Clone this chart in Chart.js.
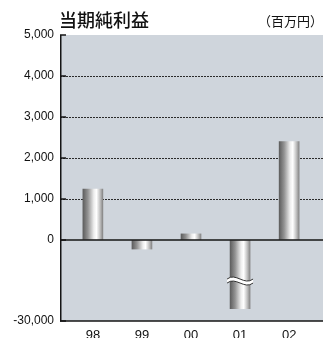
<!DOCTYPE html>
<html>
<head>
<meta charset="utf-8">
<script src="https://cdn.jsdelivr.net/npm/chart.js@4"></script>
<style>
  html, body { margin: 0; padding: 0; background: #fff; overflow: hidden; }
  #wrap { position: relative; width: 326px; height: 338px; }
  #title { position: absolute; left: 59px; top: 10px; font: 500 18px/1 "Noto Sans CJK JP"; color: #111; }
  #unit { position: absolute; right: 3px; top: 14px; font: 13px/1 "Noto Sans CJK JP"; color: #111; }
</style>
</head>
<body>
<div id="wrap">
  <canvas id="netIncome" width="326" height="338"></canvas>
  <div id="title">当期純利益</div>
  <div id="unit">（百万円）</div>
</div>
<script>
/*--data--*/
var years = ['98', '99', '00', '01', '02'];
var netIncome = [1240, -220, 150, -21000, 2400];   // 百万円
var yTicks = [-30000, 0, 1000, 2000, 3000, 4000, 5000];
var dottedAt = [1000, 2000, 3000, 4000];

/*--broken axis: below breakAt the scale is squeezed--*/
var breakAt = -1000;
var squeeze = 0.0336;
function toAxis(v) {
  return v >= breakAt ? v : breakAt + (v - breakAt) * squeeze;
}

function barFill(ctx) {
  var chart = ctx.chart;
  if (!chart.chartArea || ctx.dataIndex === undefined) return '#bbbbbb';
  var cx = chart.scales.x.getPixelForValue(ctx.dataIndex);
  var g = chart.ctx.createLinearGradient(cx - 10, 0, cx + 10, 0);
  g.addColorStop(0, '#5e5e5e');
  g.addColorStop(0.25, '#939393');
  g.addColorStop(0.55, '#eeeeee');
  g.addColorStop(0.68, '#ffffff');
  g.addColorStop(0.86, '#c0c0c0');
  g.addColorStop(1, '#858585');
  return g;
}

var frame = {
  id: 'frame',
  beforeDraw: function(chart) {
    var a = chart.chartArea, c = chart.ctx;
    c.save();
    c.fillStyle = '#cfd5dc';
    c.fillRect(a.left, a.top, a.right - a.left, a.bottom - a.top);
    c.restore();
  },
  afterDatasetsDraw: function(chart) {
    var a = chart.chartArea, c = chart.ctx, y = chart.scales.y, x = chart.scales.x;
    function line(x1, y1, x2, y2) { c.beginPath(); c.moveTo(x1, y1); c.lineTo(x2, y2); c.stroke(); }
    c.save();
    c.strokeStyle = '#151515';
    c.lineWidth = 1.5;
    var y0 = y.getPixelForValue(0);
    line(a.left, y0, a.right, y0);
    line(a.left + 0.75, a.top, a.left + 0.75, a.bottom);
    line(a.left, a.bottom, a.right, a.bottom);
    // little inner tick marks
    yTicks.forEach(function(v) {
      var py = y.getPixelForValue(toAxis(v));
      line(a.left, py, a.left + 6, py);
    });
    // break marks on bars cut by the axis break
    c.lineWidth = 1;
    netIncome.forEach(function(v, i) {
      if (v >= breakAt) return;
      var cx = x.getPixelForValue(i), cy = y.getPixelForValue(breakAt);
      var x0 = cx - 13, x1 = cx + 13, w = x1 - x0;
      c.beginPath();
      c.moveTo(x0, cy - 2);
      c.bezierCurveTo(x0 + w / 3, cy - 9, x0 + 2 * w / 3, cy + 5, x1, cy - 2);
      c.lineTo(x1, cy + 2);
      c.bezierCurveTo(x0 + 2 * w / 3, cy + 9, x0 + w / 3, cy - 5, x0, cy + 2);
      c.closePath();
      c.fillStyle = '#ffffff';
      c.fill();
      c.beginPath();
      c.moveTo(x0, cy - 2);
      c.bezierCurveTo(x0 + w / 3, cy - 9, x0 + 2 * w / 3, cy + 5, x1, cy - 2);
      c.moveTo(x0, cy + 2);
      c.bezierCurveTo(x0 + w / 3, cy - 5, x0 + 2 * w / 3, cy + 9, x1, cy + 2);
      c.strokeStyle = '#333333';
      c.stroke();
    });
    c.restore();
  }
};

var netIncomeChart = new Chart(document.getElementById('netIncome'), {
  type: 'bar',
  data: {
    datasets: [{
      data: netIncome.map(function(v, i) { return { x: i, y: toAxis(v) }; }),
      barThickness: 20,
      borderWidth: 0,
      backgroundColor: barFill
    }]
  },
  options: {
    responsive: false,
    animation: false,
    layout: { padding: { top: 35, right: 3, left: 0, bottom: 0 } },
    plugins: { legend: { display: false }, tooltip: { enabled: false } },
    scales: {
      x: {
        type: 'linear',
        offset: false,
        min: -0.67,
        max: 4.69,
        afterBuildTicks: function(axis) {
          axis.ticks = years.map(function(_, i) { return { value: i }; });
        },
        afterFit: function(axis) { axis.height = 17; },
        grid: { display: false, drawTicks: false },
        border: { display: false },
        ticks: {
          padding: 7,
          color: '#111',
          font: { family: 'Liberation Sans', size: 13 },
          callback: function(v) { return years[v]; }
        }
      },
      y: {
        min: toAxis(-30000),
        max: 5000,
        afterBuildTicks: function(axis) {
          axis.ticks = yTicks.map(function(v) { return { value: toAxis(v) }; });
        },
        afterFit: function(axis) { axis.width = 60; },
        grid: {
          drawTicks: false,
          lineWidth: 1,
          color: function(ctx) {
            var i = ctx.index;
            return (ctx.tick && dottedAt.indexOf(yTicks[i]) >= 0) ? '#2a2a2a' : 'rgba(0,0,0,0)';
          }
        },
        border: { display: false, dash: [2, 1] },
        ticks: {
          padding: 6,
          color: '#111',
          font: { family: 'Liberation Sans', size: 12 },
          callback: function(v, i) { return yTicks[i].toLocaleString('en-US'); }
        }
      }
    }
  },
  plugins: [frame]
});
</script>
</body>
</html>
